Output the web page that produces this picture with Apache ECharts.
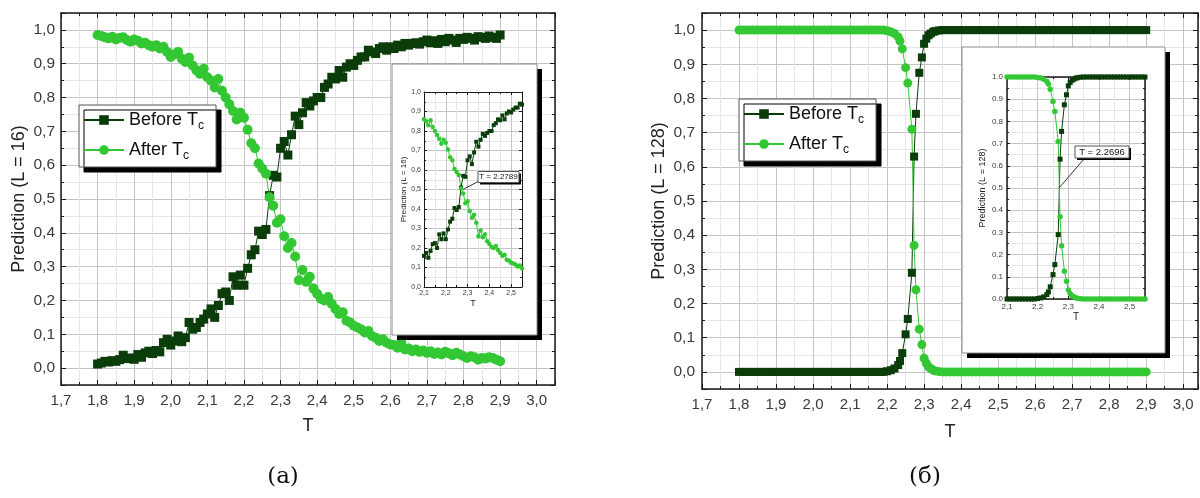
<!DOCTYPE html>
<html>
<head>
<meta charset="UTF-8">
<title>Prediction vs T</title>
<script src="https://cdn.jsdelivr.net/npm/echarts/dist/echarts.min.js"></script>
<style>
  html, body { margin: 0; padding: 0; background: #fff; }
  #chart { width: 1200px; height: 498px; }
</style>
</head>
<body>
<div id="chart"></div>
<script>
// ---- data ----
var T16 = [1.80,1.81,1.82,1.83,1.84,1.85,1.86,1.87,1.88,1.89,
           1.90,1.91,1.92,1.93,1.94,1.95,1.96,1.97,1.98,1.99,
           2.00,2.01,2.02,2.03,2.04,2.05,2.06,2.07,2.08,2.09,
           2.10,2.11,2.12,2.13,2.14,2.15,2.16,2.17,2.18,2.19,
           2.20,2.21,2.22,2.23,2.24,2.25,2.26,2.27,2.28,2.29,
           2.30,2.31,2.32,2.33,2.34,2.35,2.36,2.37,2.38,2.39,
           2.40,2.41,2.42,2.43,2.44,2.45,2.46,2.47,2.48,2.49,
           2.50,2.51,2.52,2.53,2.54,2.55,2.56,2.57,2.58,2.59,
           2.60,2.61,2.62,2.63,2.64,2.65,2.66,2.67,2.68,2.69,
           2.70,2.71,2.72,2.73,2.74,2.75,2.76,2.77,2.78,2.79,
           2.80,2.81,2.82,2.83,2.84,2.85,2.86,2.87,2.88,2.89,
           2.90];
var before16 = [0.012,0.015,0.020,0.018,0.022,0.020,0.025,0.038,0.028,0.030,
                0.026,0.040,0.032,0.045,0.050,0.043,0.052,0.048,0.075,0.085,
                0.068,0.080,0.095,0.078,0.090,0.135,0.115,0.120,0.135,0.145,
                0.160,0.175,0.150,0.185,0.220,0.225,0.200,0.270,0.245,0.275,
                0.245,0.295,0.335,0.350,0.405,0.395,0.410,0.510,0.570,0.565,
                0.650,0.670,0.630,0.690,0.745,0.720,0.755,0.785,0.775,0.790,
                0.800,0.800,0.830,0.840,0.860,0.855,0.880,0.860,0.890,0.900,
                0.895,0.910,0.920,0.920,0.940,0.935,0.930,0.945,0.950,0.940,
                0.950,0.945,0.955,0.950,0.960,0.955,0.960,0.962,0.958,0.965,
                0.970,0.962,0.968,0.960,0.972,0.965,0.975,0.970,0.963,0.975,
                0.972,0.978,0.975,0.970,0.980,0.978,0.975,0.982,0.978,0.975,
                0.985];
var after16 = [0.985,0.982,0.978,0.975,0.980,0.972,0.976,0.978,0.970,0.965,
               0.972,0.968,0.960,0.962,0.955,0.950,0.955,0.945,0.950,0.935,
               0.920,0.928,0.935,0.915,0.905,0.918,0.895,0.880,0.870,0.885,
               0.860,0.850,0.830,0.855,0.820,0.800,0.780,0.760,0.735,0.755,
               0.740,0.705,0.665,0.650,0.605,0.590,0.575,0.505,0.480,0.430,
               0.440,0.390,0.355,0.370,0.330,0.260,0.290,0.255,0.270,0.235,
               0.220,0.205,0.200,0.210,0.190,0.175,0.160,0.165,0.140,0.135,
               0.125,0.120,0.115,0.105,0.110,0.095,0.090,0.080,0.085,0.075,
               0.070,0.068,0.060,0.075,0.055,0.058,0.050,0.055,0.048,0.052,
               0.045,0.050,0.042,0.046,0.040,0.048,0.044,0.038,0.045,0.040,
               0.035,0.030,0.035,0.032,0.025,0.030,0.028,0.032,0.030,0.025,
               0.020];

var T128 = [1.80,1.81,1.82,1.83,1.84,1.85,1.86,1.87,1.88,1.89,
            1.90,1.91,1.92,1.93,1.94,1.95,1.96,1.97,1.98,1.99,
            2.00,2.01,2.02,2.03,2.04,2.05,2.06,2.07,2.08,2.09,
            2.10,2.11,2.12,2.13,2.14,2.15,2.16,2.17,2.18,2.19,
            2.20,2.21,2.22,
            2.230,2.235,2.241,2.250,2.256,2.267,2.273,2.278,2.287,2.294,
            2.300,2.306,2.312,2.318,2.325,2.330,
            2.34,2.35,2.36,2.37,2.38,2.39,
            2.40,2.41,2.42,2.43,2.44,2.45,2.46,2.47,2.48,2.49,
            2.50,2.51,2.52,2.53,2.54,2.55,2.56,2.57,2.58,2.59,
            2.60,2.61,2.62,2.63,2.64,2.65,2.66,2.67,2.68,2.69,
            2.70,2.71,2.72,2.73,2.74,2.75,2.76,2.77,2.78,2.79,
            2.80,2.81,2.82,2.83,2.84,2.85,2.86,2.87,2.88,2.89,
            2.90];
var before128 = [0,0,0,0,0,0,0,0,0,0,
                 0,0,0,0,0,0,0,0,0,0,
                 0,0,0,0,0,0,0,0,0,0,
                 0,0,0,0,0,0,0,0,0,0,
                 0.002,0.005,0.010,
                 0.020,0.032,0.055,0.110,0.155,0.290,0.630,0.755,0.875,0.920,
                 0.960,0.975,0.985,0.990,0.995,0.997,
                 0.999,1,1,1,1,1,
                 1,1,1,1,1,1,1,1,1,1,
                 1,1,1,1,1,1,1,1,1,1,
                 1,1,1,1,1,1,1,1,1,1,
                 1,1,1,1,1,1,1,1,1,1,
                 1,1,1,1,1,1,1,1,1,1,
                 1];
var after128 = [1,1,1,1,1,1,1,1,1,1,
                1,1,1,1,1,1,1,1,1,1,
                1,1,1,1,1,1,1,1,1,1,
                1,1,1,1,1,1,1,1,1,1,
                0.998,0.995,0.990,
                0.980,0.968,0.945,0.890,0.845,0.710,0.370,0.240,0.125,0.080,
                0.040,0.025,0.015,0.010,0.005,0.003,
                0.001,0,0,0,0,0,
                0,0,0,0,0,0,0,0,0,0,
                0,0,0,0,0,0,0,0,0,0,
                0,0,0,0,0,0,0,0,0,0,
                0,0,0,0,0,0,0,0,0,0,
                0,0,0,0,0,0,0,0,0,0,
                0];

var tc16 = 2.2789;
var tc128 = 2.2696;

var DARK = '#0b3d0b';
var LIGHT = '#33c833';
var FONT = '"Liberation Sans", Arial, sans-serif';

function pairs(xs, ys) {
    return xs.map(function (x, i) { return [x, ys[i]]; });
}
function commaFmt(v) { return v.toFixed(1).replace('.', ','); }
function dotFmt(v) { return v.toFixed(1); }

// one axis of a framed, origin-style plot (inside ticks on every side)
function axis(o) {
    var a = {
        type: 'value',
        gridIndex: o.grid,
        position: o.position,
        min: o.min,
        max: o.max,
        z: o.z || 0,
        name: o.name || '',
        nameLocation: 'middle',
        nameGap: o.nameGap || 0,
        nameTextStyle: { fontSize: o.nameSize || 18, color: '#222', fontFamily: FONT },
        axisLine: { show: true, onZero: false, lineStyle: { color: '#1a1a1a', width: o.lw || 1.5 } },
        axisTick: { show: true, inside: true, length: o.tick || 5, lineStyle: { color: '#1a1a1a', width: 1 } },
        minorTick: { show: true, splitNumber: 2, length: o.minor || 3, lineStyle: { color: '#1a1a1a', width: 1 } },
        axisLabel: {
            show: !!o.labels, margin: o.margin || 6, fontSize: o.fontSize || 15,
            color: '#3a3a3a', fontFamily: FONT, formatter: o.fmt || commaFmt,
            showMinLabel: o.showMin !== false, showMaxLabel: o.showMax !== false
        },
        splitLine: { show: !!o.gridLines, lineStyle: { color: '#c4c4c4', width: 1 } },
        minorSplitLine: { show: !!o.gridLines, lineStyle: { color: '#e6e6e6', width: 1 } }
    };
    if (o.interval) a.interval = o.interval; else a.splitNumber = o.splitNumber;
    return a;
}

function series(name, idx, xs, ys, symbol, size, color, z) {
    return {
        name: name, type: 'line', xAxisIndex: idx, yAxisIndex: idx,
        data: pairs(xs, ys), symbol: symbol, symbolSize: size, showAllSymbol: true,
        itemStyle: { color: color }, lineStyle: { color: color, width: 1 },
        z: z, clip: true, animation: false
    };
}

var xAxes = [
    axis({ grid: 0, position: 'bottom', min: 1.7, max: 3.05, interval: 0.1, labels: true, gridLines: true,
           showMax: false, margin: 8, name: 'T', nameGap: 32 }),
    axis({ grid: 0, position: 'top', min: 1.7, max: 3.05, interval: 0.1 }),
    axis({ grid: 1, position: 'bottom', min: 2.1, max: 2.55, interval: 0.1, labels: true, gridLines: true,
           showMax: false, margin: 3, fontSize: 7, tick: 3, minor: 2, lw: 1, z: 6,
           name: 'T', nameGap: 12, nameSize: 9 }),
    axis({ grid: 1, position: 'top', min: 2.1, max: 2.55, interval: 0.1, tick: 3, minor: 2, lw: 1, z: 6 }),
    axis({ grid: 2, position: 'bottom', min: 1.7, max: 3.04, interval: 0.1, labels: true, gridLines: true,
           showMax: false, margin: 8, name: 'T', nameGap: 34 }),
    axis({ grid: 2, position: 'top', min: 1.7, max: 3.04, interval: 0.1 }),
    axis({ grid: 3, position: 'bottom', min: 2.1, max: 2.55, interval: 0.1, labels: true, gridLines: true,
           showMax: false, margin: 4, fontSize: 8, tick: 3, minor: 2, lw: 1.5, z: 6,
           name: 'T', nameGap: 13, nameSize: 10 }),
    axis({ grid: 3, position: 'top', min: 2.1, max: 2.55, interval: 0.1, tick: 3, minor: 2, lw: 1.5, z: 6 })
];
var yAxes = [
    axis({ grid: 0, position: 'left', min: -0.05, max: 1.05, splitNumber: 11, labels: true, gridLines: true,
           showMin: false, showMax: false, margin: 6, fontSize: 15.5,
           name: 'Prediction (L = 16)', nameGap: 33 }),
    axis({ grid: 0, position: 'right', min: -0.05, max: 1.05, splitNumber: 11 }),
    axis({ grid: 1, position: 'left', min: 0, max: 1, interval: 0.1, labels: true, gridLines: true,
           margin: 3, fontSize: 7, tick: 3, minor: 2, lw: 1, z: 6,
           name: 'Prediction (L = 16)', nameGap: 16, nameSize: 8 }),
    axis({ grid: 1, position: 'right', min: 0, max: 1, interval: 0.1, tick: 3, minor: 2, lw: 1, z: 6 }),
    axis({ grid: 2, position: 'left', min: -0.05, max: 1.05, splitNumber: 11, labels: true, gridLines: true,
           showMin: false, showMax: false, margin: 7, fontSize: 15.5,
           name: 'Prediction (L = 128)', nameGap: 34 }),
    axis({ grid: 2, position: 'right', min: -0.05, max: 1.05, splitNumber: 11 }),
    axis({ grid: 3, position: 'left', min: 0, max: 1, interval: 0.1, labels: true, gridLines: true,
           margin: 4, fontSize: 8, tick: 3, minor: 2, lw: 1.5, z: 6, fmt: dotFmt,
           name: 'Prediction (L = 128)', nameGap: 20, nameSize: 9 }),
    axis({ grid: 3, position: 'right', min: 0, max: 1, interval: 0.1, tick: 3, minor: 2, lw: 1.5, z: 6 })
];

function legendAt(left, top) {
    return {
        data: ['Before', 'After'], left: left, top: top, orient: 'vertical',
        selectedMode: false, z: 10,
        itemWidth: 40, itemHeight: 12, itemGap: 6,
        padding: [3, 12, 5, 4],
        backgroundColor: '#fff', borderColor: '#555', borderWidth: 1,
        shadowColor: '#000', shadowBlur: 0, shadowOffsetX: 5, shadowOffsetY: 5,
        formatter: function (name) { return name + ' T{sub|c}'; },
        textStyle: {
            fontSize: 18, lineHeight: 24, color: '#111', fontFamily: FONT,
            rich: { sub: { fontSize: 12, color: '#111', fontFamily: FONT, verticalAlign: 'bottom' } }
        }
    };
}

function shadowBox(id, x, y, w, h, off, z) {
    return [
        { type: 'rect', id: id + '-sh', z: z, shape: { x: x + off, y: y + off, width: w, height: h },
          style: { fill: '#000' } },
        { type: 'rect', id: id, z: z, shape: { x: x, y: y, width: w, height: h },
          style: { fill: '#fff', stroke: '#8a8a8a', lineWidth: 1 } }
    ];
}

var baseGraphic = [].concat(
    shadowBox('inset16', 392, 64, 145, 271, 5, 5),
    shadowBox('inset128', 962, 47, 203, 306, 5, 5),
    [
        { type: 'text', id: 'capA', x: 283, y: 477, z: 5,
          style: { text: '(a)', font: '23px "DejaVu Serif", serif', fill: '#111',
                   textAlign: 'center', textVerticalAlign: 'middle' } },
        { type: 'text', id: 'capB', x: 925, y: 477, z: 5,
          style: { text: '(б)', font: '23px "DejaVu Serif", serif', fill: '#111',
                   textAlign: 'center', textVerticalAlign: 'middle' } }
    ]
);

var option = {
    animation: false,
    backgroundColor: '#fff',
    grid: [
        { left: 61, top: 13, width: 494, height: 372 },
        { left: 424, top: 92, width: 98, height: 195 },
        { left: 702, top: 13, width: 496, height: 376 },
        { left: 1007, top: 77, width: 138, height: 222 }
    ],
    xAxis: xAxes,
    yAxis: yAxes,
    legend: [legendAt(79, 105), legendAt(739, 99)],
    graphic: baseGraphic,
    series: [
        series('Before', 0, T16, before16, 'rect', 9, DARK, 2),
        series('After', 0, T16, after16, 'circle', 10, LIGHT, 2),
        series('Before', 2, T16, before16, 'rect', 4, DARK, 8),
        series('After', 2, T16, after16, 'circle', 4.5, LIGHT, 8),
        series('Before', 4, T128, before128, 'rect', 8, DARK, 2),
        series('After', 4, T128, after128, 'circle', 9, LIGHT, 2),
        series('Before', 6, T128, before128, 'rect', 5, DARK, 8),
        series('After', 6, T128, after128, 'circle', 5.5, LIGHT, 8)
    ]
};

var chart = echarts.init(document.getElementById('chart'));
chart.setOption(option);

// callouts marking the crossing point, placed from the inset axes
function callout(id, p, text, fontSize, dx, dy, w, h, lx, ly) {
    return [
        { type: 'line', id: id + '-ln', z: 12,
          shape: { x1: p[0], y1: p[1], x2: p[0] + lx, y2: p[1] + ly },
          style: { stroke: '#333', lineWidth: 1 } },
        { type: 'rect', id: id + '-sh', z: 12,
          shape: { x: p[0] + dx + 2, y: p[1] + dy + 2, width: w, height: h }, style: { fill: '#000' } },
        { type: 'rect', id: id + '-bx', z: 12,
          shape: { x: p[0] + dx, y: p[1] + dy, width: w, height: h },
          style: { fill: '#fff', stroke: '#555', lineWidth: 1 } },
        { type: 'text', id: id + '-tx', z: 13, x: p[0] + dx + w / 2, y: p[1] + dy + h / 2,
          style: { text: text, font: fontSize + 'px ' + FONT, fill: '#111',
                   textAlign: 'center', textVerticalAlign: 'middle' } }
    ];
}
var p16 = chart.convertToPixel({ xAxisIndex: 2, yAxisIndex: 2 }, [tc16, 0.5]);
var p128 = chart.convertToPixel({ xAxisIndex: 6, yAxisIndex: 6 }, [tc128, 0.5]);
option.graphic = baseGraphic.concat(
    callout('tc16', p16, 'T = ' + tc16.toFixed(4), 8, 15, -18, 41, 11, 15, -8),
    callout('tc128', p128, 'T = ' + tc128.toFixed(4), 9.5, 16, -42, 54, 12, 25, -29)
);
chart.setOption(option, true);
</script>
</body>
</html>
